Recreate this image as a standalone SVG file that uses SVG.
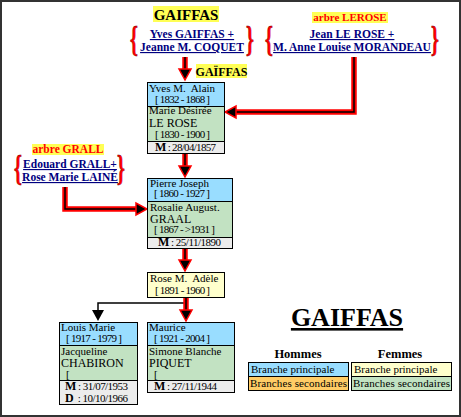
<svg xmlns="http://www.w3.org/2000/svg" width="461" height="417" viewBox="0 0 461 417">
<style>
.t{font-family:"Liberation Serif","Times New Roman",serif;font-size:11px;fill:#000;white-space:pre}
.nm{font-size:12px}
.b{font-weight:bold}
.lnk{font-family:"Liberation Serif","Times New Roman",serif;font-weight:bold;font-size:11.5px;fill:#000080;text-decoration:underline;text-anchor:middle}
.hl{fill:#FFFF55}
.brace{font-family:"Liberation Serif","Times New Roman",serif;font-weight:bold;font-size:35px;fill:#FF0000;stroke:#600;stroke-width:0.4;text-anchor:middle}
.bx{stroke:#000;stroke-width:1}
.blue{fill:#99DDFF}
.green{fill:#C2E2C2}
.gray{fill:#ECECEC}
.yel{fill:#FFFFCC}
.org{fill:#FFCC66}
.red{fill:none;stroke:#FF0000;stroke-width:5.5;stroke-linejoin:miter}
.core{fill:none;stroke:#000;stroke-width:1.5}
.ah{fill:#000;stroke:#FF0000;stroke-width:1.5;stroke-linejoin:miter}
.blk{fill:none;stroke:#000;stroke-width:1.5}
</style>
<rect x="1" y="1" width="459" height="415" fill="#fff" stroke="#333" stroke-width="2"/>

<g id="title">
<rect class="hl" x="153" y="6" width="66" height="16"/>
<text class="t b" x="186" y="20" style="font-size:15px" text-anchor="middle">GAIFFAS</text>
</g>

<g id="couple-gaiffas">
<text class="brace" transform="translate(134,51) scale(0.6,1)">{</text>
<text class="lnk" x="192" y="38">Yves GAIFFAS +</text>
<text class="lnk" x="192" y="51">Jeanne M. COQUET</text>
<text class="brace" transform="translate(250,51) scale(0.6,1)">}</text>
</g>

<g id="couple-lerose">
<rect class="hl" x="312" y="12" width="76" height="11"/>
<text class="t b" x="350" y="21" style="fill:#FF0000" text-anchor="middle">arbre LEROSE</text>
<text class="brace" transform="translate(269,51) scale(0.6,1)">{</text>
<text class="lnk" x="352" y="38">Jean LE ROSE +</text>
<text class="lnk" x="352" y="51">M. Anne Louise MORANDEAU</text>
<text class="brace" transform="translate(435,51) scale(0.6,1)">}</text>
</g>

<g id="couple-grall">
<rect class="hl" x="32" y="144" width="72" height="11"/>
<text class="t b" x="68" y="153" style="fill:#FF0000;font-size:11.5px" text-anchor="middle">arbre GRALL</text>
<text class="brace" transform="translate(18,180) scale(0.6,1)">{</text>
<text class="lnk" x="70" y="168">Edouard GRALL+</text>
<text class="lnk" x="70" y="181">Rose Marie LAINÉ</text>
<text class="brace" transform="translate(121,180) scale(0.6,1)">}</text>
</g>

<g id="label-gaiffas">
<rect class="hl" x="196" y="64" width="51" height="14"/>
<text class="t b" x="221.5" y="76" style="font-size:12px" text-anchor="middle">GAÏFFAS</text>
</g>

<g id="connectors">
<path class="red" d="M185,57 V70"/>
<path class="core" d="M185,57 V70"/>
<polygon class="ah" points="179,69 191,69 185,80"/>
<path class="red" d="M354,57 V112 H235"/>
<path class="core" d="M354,57 V112 H235"/>
<polygon class="ah" points="236,106 236,118 225,112"/>
<path class="red" d="M185,153 V167"/>
<path class="core" d="M185,153 V167"/>
<polygon class="ah" points="179,166 191,166 185,177"/>
<path class="red" d="M65,187 V209 H137"/>
<path class="core" d="M65,187 V209 H137"/>
<polygon class="ah" points="136,203 136,215 147,209"/>
<path class="red" d="M185,248 V261"/>
<path class="core" d="M185,248 V261"/>
<polygon class="ah" points="179,260 191,260 185,271"/>
<path class="blk" d="M186,303 H98 V312"/>
<polygon points="92,310 104,310 98,321" fill="#000"/>
<path class="red" d="M186,297 V311"/>
<path class="core" d="M186,297 V311"/>
<polygon class="ah" points="180,310 192,310 186,321"/>
</g>

<g id="node-yves">
<rect class="bx blue" x="147.5" y="82.5" width="77" height="24"/>
<rect class="bx green" x="147.5" y="106.5" width="77" height="35"/>
<rect class="bx gray" x="147.5" y="141.5" width="77" height="12"/>
<text class="t" x="149" y="92">Yves M.  Alain</text>
<text class="t" x="155" y="103" textLength="55">[ 1832 - 1868 ]</text>
<text class="t" x="149" y="114">Marie Désirée</text>
<text class="t nm" x="149" y="127">LE ROSE</text>
<text class="t" x="155" y="138" textLength="55">[ 1830 - 1900 ]</text>
<text class="t" x="155" y="151" textLength="61"><tspan class="b" style="font-size:12px">M</tspan> : 28/04/1857</text>
</g>

<g id="node-pierre">
<rect class="bx blue" x="147.5" y="178.5" width="85" height="23"/>
<rect class="bx green" x="147.5" y="201.5" width="85" height="36"/>
<rect class="bx gray" x="147.5" y="237.5" width="85" height="11"/>
<text class="t" x="150" y="187">Pierre Joseph</text>
<text class="t" x="154" y="197" textLength="56">[ 1860 - 1927 ]</text>
<text class="t" x="150" y="211">Rosalie August.</text>
<text class="t nm" x="150" y="223">GRAAL</text>
<text class="t" x="154" y="233" textLength="61">[ 1867 - &gt;1931 ]</text>
<text class="t" x="158" y="246" textLength="63"><tspan class="b" style="font-size:12px">M</tspan> : 25/11/1890</text>
</g>

<g id="node-rose">
<rect class="bx yel" x="147.5" y="272.5" width="77" height="25"/>
<text class="t" x="150" y="282">Rose M.  Adèle</text>
<text class="t" x="155" y="294" textLength="55">[ 1891 - 1960 ]</text>
</g>

<g id="node-louis">
<rect class="bx blue" x="59.5" y="322.5" width="78" height="23"/>
<rect class="bx green" x="59.5" y="345.5" width="78" height="35"/>
<rect class="bx gray" x="59.5" y="380.5" width="78" height="24"/>
<text class="t" x="61" y="331">Louis Marie</text>
<text class="t" x="66" y="342" textLength="56">[ 1917 - 1979 ]</text>
<text class="t" x="61" y="355">Jacqueline</text>
<text class="t nm" x="61" y="367">CHABIRON</text>
<text class="t" x="66" y="378">[</text>
<text class="t" x="65" y="390" textLength="63"><tspan class="b" style="font-size:12px">M</tspan> : 31/07/1953</text>
<text class="t" x="65" y="402" textLength="63"><tspan class="b" style="font-size:12px">D</tspan>  : 10/10/1966</text>
</g>

<g id="node-maurice">
<rect class="bx blue" x="147.5" y="322.5" width="87" height="23"/>
<rect class="bx green" x="147.5" y="345.5" width="87" height="35"/>
<rect class="bx gray" x="147.5" y="380.5" width="87" height="12"/>
<text class="t" x="149" y="331">Maurice</text>
<text class="t" x="154" y="342" textLength="56">[ 1921 - 2004 ]</text>
<text class="t" x="149" y="355">Simone Blanche</text>
<text class="t nm" x="149" y="367">PIQUET</text>
<text class="t" x="154" y="378">[</text>
<text class="t" x="154" y="390" textLength="63"><tspan class="b" style="font-size:12px">M</tspan> : 27/11/1944</text>
</g>

<g id="legend">
<text class="t b" x="347" y="326" style="font-size:26px;text-decoration:underline" text-anchor="middle">GAIFFAS</text>
<text class="t b" x="298" y="358" style="font-size:12.5px" text-anchor="middle">Hommes</text>
<text class="t b" x="400" y="358" style="font-size:12.5px" text-anchor="middle">Femmes</text>
<rect class="bx blue" x="248.5" y="362.5" width="100" height="14"/>
<rect class="bx org" x="248.5" y="376.5" width="100" height="14"/>
<rect class="bx yel" x="351.5" y="362.5" width="100" height="14"/>
<rect class="bx green" x="351.5" y="376.5" width="100" height="14"/>
<text class="t" x="251" y="373">Branche principale</text>
<text class="t" x="250" y="387" textLength="97">Branches secondaires</text>
<text class="t" x="354" y="373">Branche principale</text>
<text class="t" x="353" y="387" textLength="97">Branches secondaires</text>
</g>
</svg>
